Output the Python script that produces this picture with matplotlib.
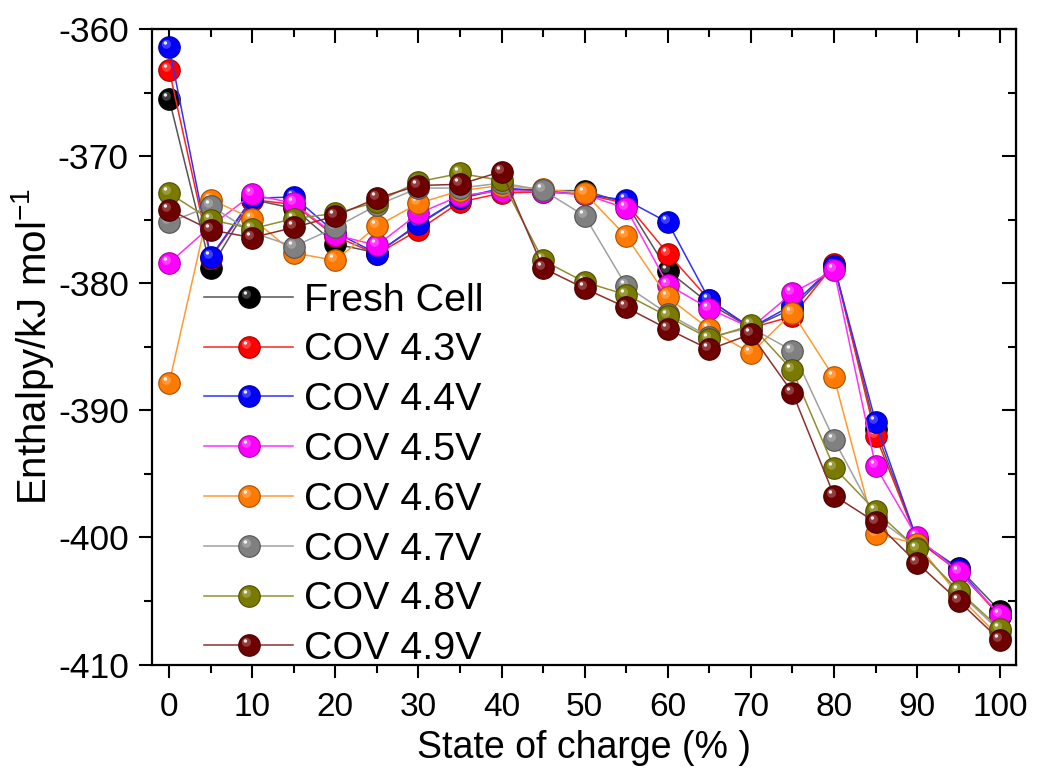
import numpy as np
import matplotlib
matplotlib.use("Agg")
import matplotlib.pyplot as plt
from matplotlib.path import Path
from matplotlib.legend_handler import HandlerTuple
from matplotlib.colors import to_rgb

plt.rcParams["font.family"] = ["Liberation Sans", "DejaVu Sans"]
plt.rcParams["mathtext.fontset"] = "custom"
plt.rcParams["mathtext.rm"] = "Liberation Sans"
plt.rcParams["axes.unicode_minus"] = False

# State of charge (%)
soc = [0, 5, 10, 15, 20, 25, 30, 35, 40, 45, 50, 55, 60, 65, 70, 75, 80, 85, 90, 95, 100]

# Enthalpy (kJ/mol) per cell condition
fresh = [-365.5, -378.8, -373.4, -374.1, -376.9, -377.6, -375.4, -373.3, -372.6, -372.7, -372.7,
         -373.7, -379.0, -381.6, -383.5, -382.0, -378.6, -391.5, -400.2, -402.4, -405.8]
cov43 = [-363.2, -378.0, -373.4, -373.8, -376.3, -377.7, -375.8, -373.6, -372.9, -372.8, -373.0,
         -373.7, -377.65, -381.3, -383.5, -382.6, -378.5, -392.0, -400.2, -402.7, -406.2]
cov44 = [-361.4, -377.9, -373.3, -373.2, -376.0, -377.65, -375.3, -373.3, -372.5, -372.7, -373.0,
         -373.45, -375.2, -381.3, -383.5, -381.7, -378.6, -390.9, -400.2, -402.5, -406.2]
cov45 = [-378.4, -375.5, -373.0, -373.7, -376.2, -377.0, -374.5, -373.1, -372.7, -372.8, -373.0,
         -374.1, -380.1, -382.0, -383.5, -380.75, -378.97, -394.4, -400.0, -402.7, -406.1]
cov46 = [-387.85, -373.4, -374.9, -377.6, -378.2, -375.5, -373.7, -372.7, -372.3, -372.6, -372.9,
         -376.3, -381.1, -383.6, -385.5, -382.3, -387.4, -399.7, -400.5, -404.6, -407.9]
cov47 = [-375.2, -373.9, -376.0, -377.1, -375.6, -373.85, -372.5, -372.5, -372.1, -372.66, -374.7,
         -380.2, -382.4, -384.2, -383.5, -385.3, -392.3, -398.4, -400.8, -404.3, -407.4]
cov48 = [-372.9, -375.0, -375.7, -374.9, -374.5, -373.6, -372.0, -371.35, -371.9, -378.2, -379.9,
         -380.9, -382.6, -384.35, -383.3, -386.85, -394.5, -397.9, -400.9, -404.2, -407.2]
cov49 = [-374.2, -375.8, -376.4, -375.6, -374.7, -373.3, -372.3, -372.2, -371.2, -378.8, -380.4,
         -381.9, -383.6, -385.2, -384.0, -388.6, -396.7, -398.8, -402.0, -405.0, -408.1]

labels = ["Fresh Cell", "COV 4.3V", "COV 4.4V", "COV 4.5V", "COV 4.6V", "COV 4.7V", "COV 4.8V", "COV 4.9V"]
series = [fresh, cov43, cov44, cov45, cov46, cov47, cov48, cov49]
colors = ["#000000", "#ff0000", "#0000ff", "#ff00ff", "#ff7a00", "#808080", "#7a7a00", "#6e0000"]
line_colors = ["#555555", "#ff2020", "#3030ff", "#ff30ff", "#ff9a30", "#a0a0a0", "#8f8f30", "#8a3030"]

x_ticks = [0, 10, 20, 30, 40, 50, 60, 70, 80, 90, 100]
y_ticks = [-410, -400, -390, -380, -370, -360]


def circle_marker(cx, cy, r):
    """Circle path in a [-1, 1] box; corner moves keep the marker scale fixed."""
    t = np.linspace(0, 2 * np.pi, 60)
    verts = [(-1, -1), (1, 1)] + [(cx + r * np.cos(a), cy + r * np.sin(a)) for a in t]
    codes = [Path.MOVETO, Path.MOVETO, Path.MOVETO] + [Path.LINETO] * 58 + [Path.CLOSEPOLY]
    return Path(verts, codes)


def mix(c, w, f):
    c = np.array(to_rgb(c))
    w = np.array(to_rgb(w))
    return tuple(c * (1 - f) + w * f)


glow = circle_marker(-0.28, 0.3, 0.42)
spot = circle_marker(-0.38, 0.42, 0.16)

fig = plt.figure(figsize=(10.47, 7.70), dpi=100)
ax = fig.add_axes([0.1449, 0.137, 0.8255, 0.825])

ms = 15.5
handles = []
for k, (y, c, lc, lab) in enumerate(zip(series, colors, line_colors, labels)):
    z = 3 + k
    base, = ax.plot(soc, y, "-", color=lc, lw=1.1, marker="o", ms=ms,
                    mfc=c, mec=mix(c, "black", 0.35), mew=0.8, zorder=z)
    g, = ax.plot(soc, y, ls="none", marker=glow, ms=ms, mfc=mix(c, "white", 0.3),
                 mec="none", alpha=0.8, zorder=z)
    s, = ax.plot(soc, y, ls="none", marker=spot, ms=ms, mfc="white",
                 mec="none", alpha=0.9, zorder=z)
    handles.append((base, g, s))

ax.set_xlim(-2.1, 101.9)
ax.set_ylim(-410, -360)

ax.set_xticks(x_ticks)
ax.set_xticks(np.arange(5, 100, 10), minor=True)
ax.set_yticks(y_ticks)
ax.set_yticks(np.arange(-405, -360, 10), minor=True)

for sp in ax.spines.values():
    sp.set_linewidth(1.6)

ax.tick_params(which="major", direction="out", length=9.5, width=1.5)
ax.tick_params(which="minor", direction="out", length=5.5, width=1.5)
ax.tick_params(axis="x", which="major", labelsize=24, pad=10)
ax.tick_params(axis="y", which="major", labelsize=25.5, pad=7)

# Inward ticks on the top and right frame
top = ax.secondary_xaxis("top")
top.set_xticks(x_ticks)
top.set_xticks(np.arange(5, 100, 10), minor=True)
top.tick_params(which="major", direction="in", length=10, width=1.5, labeltop=False)
top.tick_params(which="minor", direction="in", length=6, width=1.5)
right = ax.secondary_yaxis("right")
right.set_yticks(y_ticks)
right.set_yticks(np.arange(-405, -360, 10), minor=True)
right.tick_params(which="major", direction="in", length=10, width=1.5, labelright=False)
right.tick_params(which="minor", direction="in", length=6, width=1.5)

ax.set_xlabel("State of charge (% )", fontsize=27, labelpad=5)
ax.set_ylabel("Enthalpy/kJ mol$^{\\mathregular{-1}}$", fontsize=29, labelpad=1)

leg = ax.legend(handles, labels, handler_map={tuple: HandlerTuple(ndivide=1)},
                loc="upper left", bbox_to_anchor=(0.195, 0.633), bbox_transform=fig.transFigure,
                frameon=False, fontsize=28.4, handlelength=2.25, handletextpad=0.27,
                labelspacing=0.35, borderpad=0, borderaxespad=0, numpoints=1)

fig.savefig("out.png", dpi=100)
